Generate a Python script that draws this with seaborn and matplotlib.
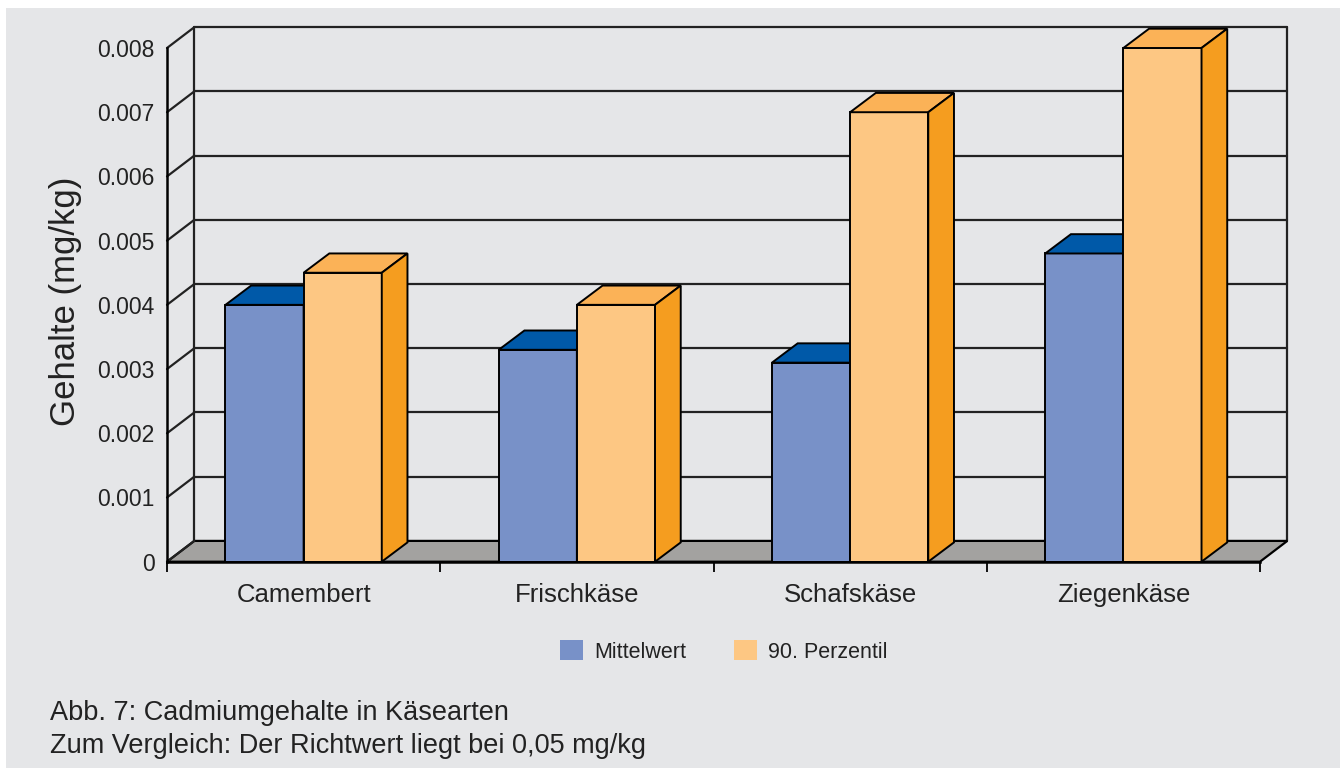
import numpy as np
import pandas as pd
import matplotlib
matplotlib.use("Agg")
import matplotlib.pyplot as plt
from matplotlib.patches import Polygon, Rectangle, Patch
from matplotlib.lines import Line2D
import seaborn as sns

# --- data -------------------------------------------------------------
cheeses = ["Camembert", "Frischkäse", "Schafskäse", "Ziegenkäse"]
series = ["Mittelwert", "90. Perzentil"]
mittelwert = [0.0040, 0.0033, 0.0031, 0.0048]
perzentil90 = [0.0045, 0.0040, 0.0070, 0.0080]
y_ticks = [0, 0.001, 0.002, 0.003, 0.004, 0.005, 0.006, 0.007, 0.008]
y_tick_labels = ["0", "0.001", "0.002", "0.003", "0.004", "0.005", "0.006", "0.007", "0.008"]
caption = ["Abb. 7: Cadmiumgehalte in Käsearten",
           "Zum Vergleich: Der Richtwert liegt bei 0,05 mg/kg"]

df = pd.DataFrame({
    "Käse": cheeses * 2,
    "Kennwert": [series[0]] * len(cheeses) + [series[1]] * len(cheeses),
    "Gehalt": mittelwert + perzentil90,
})

# --- style ------------------------------------------------------------
sns.set_style("white")
plt.rcParams["font.family"] = ["Liberation Sans", "DejaVu Sans"]

BG = "#E5E6E8"
FLOOR = "#A3A2A0"
GRID = "#222222"
front_col = {"Mittelwert": "#7891C8", "90. Perzentil": "#FDC783"}
top_col = {"Mittelwert": "#0059A8", "90. Perzentil": "#FBB257"}
side_col = {"Mittelwert": "#004C90", "90. Perzentil": "#F59D1F"}

W, H, DPI = 1340, 771, 100
fig = plt.figure(figsize=(W / DPI, H / DPI), dpi=DPI, facecolor="white")
fig.add_artist(Rectangle((6 / W, 3 / H), 1 - 6 / W, (768 - 8) / H,
                         transform=fig.transFigure, facecolor=BG,
                         edgecolor="none", zorder=-10))

ax_left, ax_right = 167, 1260
ax_top, ax_bottom = 48, 561.7
ax = fig.add_axes([ax_left / W, (H - ax_bottom) / H,
                   (ax_right - ax_left) / W, (ax_bottom - ax_top) / H])
ax.set_facecolor("none")

sns.barplot(data=df, x="Käse", y="Gehalt", hue="Kennwert", hue_order=series,
            order=cheeses, palette=[front_col[s] for s in series],
            width=0.572, saturation=1, edgecolor="black", linewidth=1.4,
            legend=False, ax=ax, zorder=3)

xmin, xmax = -0.5, len(cheeses) - 0.5
ymin, ymax = 0, 0.008
ax.set_xlim(xmin, xmax)
ax.set_ylim(ymin, ymax)

# pixel depth offsets converted to data units
px_x = ax.bbox.width / (xmax - xmin)
px_y = ax.bbox.height / (ymax - ymin)
wall_dx, wall_dy = 27.3 / px_x, 20.8 / px_y
bar_dx, bar_dy = 25.7 / px_x, 19.3 / px_y

# back wall grid, left wall diagonals, wall edges
for t in y_ticks:
    if t > 0:
        ax.add_line(Line2D([xmin + wall_dx, xmax + wall_dx], [t + wall_dy, t + wall_dy],
                           color=GRID, lw=1.6, zorder=1, clip_on=False))
    ax.add_line(Line2D([xmin, xmin + wall_dx], [t, t + wall_dy],
                       color=GRID, lw=1.6, zorder=1.5, clip_on=False))
for xe in (xmin + wall_dx, xmax + wall_dx):
    ax.add_line(Line2D([xe, xe], [wall_dy, ymax + wall_dy],
                       color=GRID, lw=1.6, zorder=1, clip_on=False))

# floor
ax.add_patch(Polygon([(xmin, 0), (xmax, 0), (xmax + wall_dx, wall_dy), (xmin + wall_dx, wall_dy)],
                     closed=True, facecolor=FLOOR, edgecolor="black", lw=1.6,
                     zorder=1.2, clip_on=False))

# 3-D tops and sides on each bar
for level, container in zip(series, ax.containers):
    z = 3 if level == series[0] else 4
    for bar in container:
        bar.set_zorder(z)
        bar.set_clip_on(False)
        x0, w, h = bar.get_x(), bar.get_width(), bar.get_height()
        top = Polygon([(x0, h), (x0 + w, h), (x0 + w + bar_dx, h + bar_dy), (x0 + bar_dx, h + bar_dy)],
                      closed=True, facecolor=top_col[level], edgecolor="black",
                      lw=1.4, zorder=z, clip_on=False, joinstyle="miter")
        side = Polygon([(x0 + w, 0), (x0 + w + bar_dx, bar_dy), (x0 + w + bar_dx, h + bar_dy), (x0 + w, h)],
                       closed=True, facecolor=side_col[level], edgecolor="black",
                       lw=1.4, zorder=z, clip_on=False, joinstyle="miter")
        ax.add_patch(top)
        ax.add_patch(side)

# spines and ticks
for s in ("top", "right"):
    ax.spines[s].set_visible(False)
for s in ("left", "bottom"):
    ax.spines[s].set_color("black")
    ax.spines[s].set_linewidth(1.8)
    ax.spines[s].set_zorder(5)

ax.set_yticks(y_ticks)
ax.set_yticklabels(y_tick_labels)
ax.tick_params(axis="y", which="major", direction="out", length=6, width=1.6,
               color="black", pad=3, labelsize=16.5, labelcolor="#222222")
ax.set_xticks(range(len(cheeses)))
ax.set_xticklabels(cheeses)
ax.set_xticks(np.arange(xmin, xmax + 0.01, 1.0), minor=True)
ax.tick_params(axis="x", which="major", length=0, pad=15, labelsize=18.5,
               labelcolor="#222222")
ax.tick_params(axis="x", which="minor", direction="out", length=7, width=1.3,
               color="black", bottom=True)
ax.set_xlabel("")
ax.set_ylabel("Gehalte (mg/kg)", fontsize=25, color="#222222")
ax.yaxis.set_label_coords((82 - ax_left) / (ax_right - ax_left), 0.507)

# legend
handles = [Patch(facecolor=front_col[s], edgecolor="none") for s in series]
fig.legend(handles, series, loc="center", bbox_to_anchor=(724 / W, (H - 651.5) / H),
           ncol=2, frameon=False, fontsize=15.5, handlelength=1.05, handleheight=1.05,
           handletextpad=0.55, columnspacing=2.2, labelcolor="#222222")

# caption
fig.text(50 / W, (H - 713) / H, caption[0], fontsize=19.5, color="#222222", va="center", ha="left")
fig.text(50 / W, (H - 746) / H, caption[1], fontsize=19.5, color="#222222", va="center", ha="left")

fig.savefig("out.png", dpi=DPI, facecolor="white")
